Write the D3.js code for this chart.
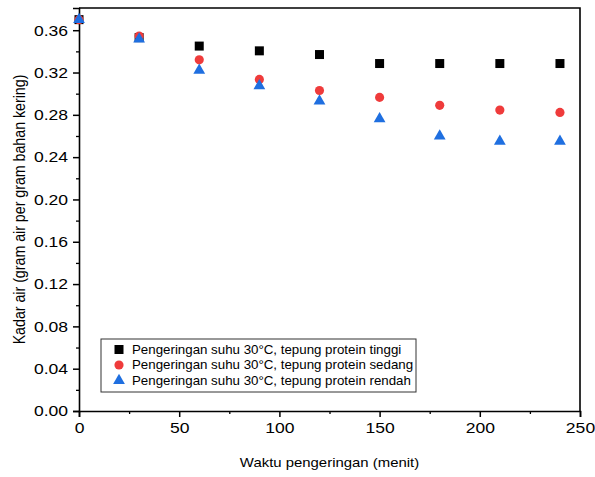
<!DOCTYPE html>
<html>
<head>
<meta charset="utf-8">
<script src="https://cdn.jsdelivr.net/npm/d3@7"></script>
<style>
  body { margin: 0; background: #fff; }
  svg { font-family: "Liberation Sans", Arial, sans-serif; }
</style>
</head>
<body>
<svg width="595" height="477"></svg>
<script>
// drying time (minutes)
const waktu = [0, 30, 60, 90, 120, 150, 180, 210, 240];
// moisture content series
const tinggi = [0.370, 0.353, 0.345, 0.3405, 0.337, 0.3285, 0.3285, 0.3285, 0.3285];
const sedang = [0.370, 0.3545, 0.332, 0.3135, 0.303, 0.2965, 0.289, 0.2845, 0.2823];
const rendah = [0.370, 0.3516, 0.322, 0.3075, 0.293, 0.2763, 0.260, 0.2549, 0.2549];
const seriesNames = [
  "Pengeringan suhu 30°C, tepung protein tinggi",
  "Pengeringan suhu 30°C, tepung protein sedang",
  "Pengeringan suhu 30°C, tepung protein rendah"
];
const xTicks = [0, 50, 100, 150, 200, 250];
const yTicks = [0, 0.04, 0.08, 0.12, 0.16, 0.20, 0.24, 0.28, 0.32, 0.36];

const svg = d3.select('svg');
const margin = { top: 8, right: 15, bottom: 66, left: 79 };
const width = 595 - margin.left - margin.right;
const height = 477 - margin.top - margin.bottom;
const g = svg.append('g').attr('transform', 'translate(' + margin.left + ',' + margin.top + ')');
const kx = 1.17; // the text in the original looks stretched sideways

const x = d3.scaleLinear().domain([0, 250]).range([0, width]);
const y = d3.scaleLinear().domain([0, 0.381]).range([height, 0]);

// minor ticks
g.append('g')
  .attr('transform', 'translate(0,' + height + ')')
  .call(d3.axisBottom(x).tickValues(d3.range(25, 250, 50)).tickSize(3).tickFormat(''))
  .call(a => a.select('.domain').remove())
  .selectAll('line').attr('stroke-width', 1.3);
g.append('g')
  .call(d3.axisLeft(y).tickValues(d3.range(0.02, 0.38, 0.04)).tickSize(3).tickFormat(''))
  .call(a => a.select('.domain').remove())
  .selectAll('line').attr('stroke-width', 1.3);

const xAxis = g.append('g')
  .attr('transform', 'translate(0,' + height + ')')
  .call(d3.axisBottom(x).tickValues(xTicks).tickSize(6).tickPadding(5).tickFormat(d3.format('d')));
const yAxis = g.append('g')
  .call(d3.axisLeft(y).tickValues(yTicks).tickSize(6).tickPadding(5).tickFormat(d3.format('.2f')));
[xAxis, yAxis].forEach(a => {
  a.selectAll('text').attr('font-size', 15).attr('fill', '#000');
  a.selectAll('line').attr('stroke-width', 1.5);
  a.select('.domain').attr('stroke-width', 1.6);
  a.attr('font-family', null);
});
xAxis.selectAll('text').attr('transform', 'scale(' + kx + ',1)');
yAxis.selectAll('text').attr('transform', 'scale(' + kx + ',1)').attr('x', -11 / kx);

// frame top/right
g.append('path')
  .attr('d', 'M0,0H' + width + 'V' + height)
  .attr('fill', 'none').attr('stroke', '#000').attr('stroke-width', 1.6);

// data marks
const sq = d3.symbol().type(d3.symbolSquare).size(81);
const ci = d3.symbol().type(d3.symbolCircle).size(66);
const tr = d3.symbol().type(d3.symbolTriangle).size(60);
const series = [
  { vals: tinggi, sym: sq, color: '#000000' },
  { vals: sedang, sym: ci, color: '#ef3b3b' },
  { vals: rendah, sym: tr, color: '#1f6fe0' }
];
series.forEach(s => {
  g.append('g').selectAll('path')
    .data(waktu.map((t, i) => [t, s.vals[i]]))
    .enter().append('path')
      .attr('d', s.sym)
      .attr('fill', s.color)
      .attr('transform', d => 'translate(' + x(d[0]) + ',' + y(d[1]) + ')');
});

// legend
const lg = svg.append('g').attr('transform', 'translate(101,339)');
lg.append('rect').attr('width', 315).attr('height', 53)
  .attr('fill', '#fff').attr('stroke', '#333').attr('stroke-width', 1);
series.forEach((s, i) => {
  const cy = 10.5 + i * 15.5;
  lg.append('path').attr('d', s.sym).attr('fill', s.color)
    .attr('transform', 'translate(18,' + cy + ')');
  lg.append('text')
    .attr('transform', 'translate(31,' + (cy + 4.3) + ') scale(1.11,1)')
    .attr('font-size', 12).text(seriesNames[i]);
});

// axis titles
svg.append('text')
  .attr('transform', 'translate(' + (margin.left + width / 2) + ',467) scale(1.13,1)')
  .attr('text-anchor', 'middle').attr('font-size', 13.2)
  .text('Waktu pengeringan (menit)');
svg.append('text')
  .attr('transform', 'translate(25,' + (margin.top + height / 2) + ') scale(1.13,1) rotate(-90)')
  .attr('text-anchor', 'middle').attr('font-size', 14.2)
  .text('Kadar air (gram air per gram bahan kering)');
</script>
</body>
</html>
